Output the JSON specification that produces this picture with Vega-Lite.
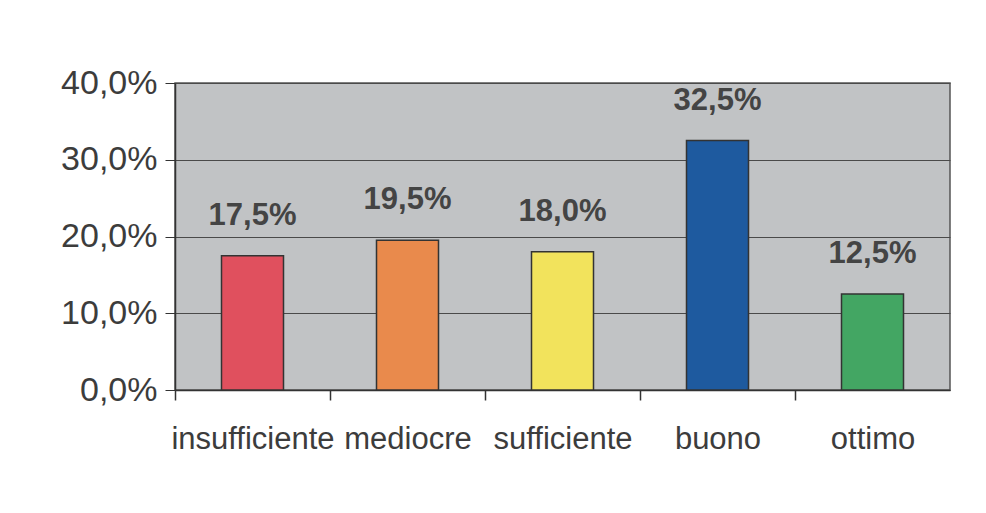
{
  "$schema": "https://vega.github.io/schema/vega-lite/v6.json",
  "autosize": "none",
  "width": 775,
  "height": 307,
  "padding": {"left": 175, "top": 83, "right": 36, "bottom": 123},
  "background": "#ffffff",
  "config": {
    "locale": {"number": {"decimal": ",", "thousands": ".", "grouping": [3], "currency": ["", " €"]}},
    "view": {"fill": "#c1c3c5", "stroke": "#555555", "strokeWidth": 1.5},
    "font": "Liberation Sans"
  },
  "data": {
    "values": [
      {"giudizio": "insufficiente", "quota": 0.175},
      {"giudizio": "mediocre", "quota": 0.195},
      {"giudizio": "sufficiente", "quota": 0.18},
      {"giudizio": "buono", "quota": 0.325},
      {"giudizio": "ottimo", "quota": 0.125}
    ]
  },
  "encoding": {
    "x": {
      "field": "giudizio", "type": "nominal", "sort": null,
      "scale": {"paddingInner": 0.6, "paddingOuter": 0.3},
      "axis": {
        "title": null, "labelAngle": 0, "labelFontSize": 31, "labelColor": "#3c3c3c",
        "labelPadding": 24, "bandPosition": 0, "tickOffset": -46.5, "labelOffset": 46.5, "tickSize": 10, "tickWidth": 1.5, "tickColor": "#333333",
        "domainColor": "#333333", "domainWidth": 1.5, "labelLimit": 300, "labelFont": "Liberation Sans"
      }
    },
    "y": {
      "field": "quota", "type": "quantitative",
      "scale": {"domain": [0, 0.4]},
      "axis": {
        "title": null, "format": ".1%", "values": [0, 0.1, 0.2, 0.3, 0.4],
        "labelFontSize": 34, "labelColor": "#3c3c3c", "labelPadding": 8,
        "tickSize": 10, "tickColor": "#333333", "domainColor": "#333333", "domainWidth": 1.5,
        "gridColor": "#4a4a4a", "gridWidth": 1.2, "labelFont": "Liberation Sans"
      }
    }
  },
  "layer": [
    {
      "mark": {"type": "bar", "stroke": "#333333", "strokeWidth": 1.5},
      "encoding": {
        "color": {
          "field": "giudizio", "type": "nominal", "sort": null, "legend": null,
          "scale": {
            "domain": ["insufficiente", "mediocre", "sufficiente", "buono", "ottimo"],
            "range": ["#e0505e", "#e98a4c", "#f2e35c", "#1e5a9f", "#43a663"]
          }
        }
      }
    },
    {
      "mark": {"type": "text", "dy": -24, "fontSize": 31, "fontWeight": "bold", "color": "#444444", "baseline": "bottom"},
      "encoding": {
        "text": {"field": "quota", "type": "quantitative", "format": ".1%"}
      }
    }
  ]
}
